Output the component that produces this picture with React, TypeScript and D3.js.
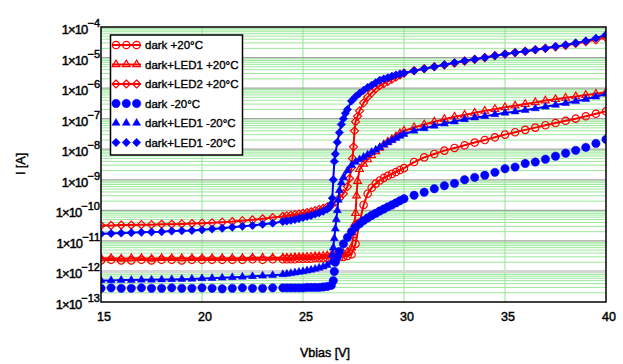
import React, { useEffect, useRef } from 'react';
import * as d3 from 'd3';

type Pt = [number, number];

// I(V) curves, [Vbias (V), current (A)]
const darkP20: Pt[] = [
  [15, 2.3e-12], [15.5, 2.4e-12], [16, 2.3e-12], [16.5, 2.3e-12], [17, 2.4e-12], [17.5, 2.3e-12], [18, 2.4e-12], [18.5, 2.4e-12],
  [19, 2.3e-12], [19.5, 2.4e-12], [20, 2.4e-12], [20.5, 2.4e-12], [21, 2.4e-12], [21.5, 2.4e-12], [22, 2.4e-12], [22.5, 2.5e-12],
  [23, 2.4e-12], [23.5, 2.5e-12], [24, 2.5e-12], [24.2, 2.5e-12], [24.4, 2.5e-12], [24.6, 2.5e-12], [24.8, 2.6e-12], [25, 2.6e-12],
  [25.2, 2.6e-12], [25.4, 2.6e-12], [25.6, 2.7e-12], [25.8, 2.7e-12], [26, 2.7e-12], [26.2, 2.8e-12], [26.4, 2.8e-12], [26.6, 2.9e-12],
  [26.8, 2.9e-12], [27, 3.0e-12], [27.2, 3.2e-12], [27.4, 3.6e-12], [27.6, 8e-12], [27.8, 4e-11], [28, 1.5e-10], [28.2, 3.5e-10],
  [28.4, 5.5e-10], [28.6, 7.5e-10], [28.8, 9.5e-10], [29, 1.15e-9], [29.2, 1.35e-9], [29.4, 1.55e-9], [29.6, 1.8e-9], [29.8, 2.1e-9],
  [30, 2.4e-9], [30.5, 3.8e-9], [31, 5.4e-9], [31.5, 7.0e-9], [32, 9.0e-9], [32.5, 1.1e-8], [33, 1.35e-8], [33.5, 1.65e-8],
  [34, 2.0e-8], [34.5, 2.45e-8], [35, 3.0e-8], [35.5, 3.6e-8], [36, 4.3e-8], [36.5, 5.1e-8], [37, 6.1e-8], [37.5, 7.2e-8],
  [38, 8.5e-8], [38.5, 1.0e-7], [39, 1.2e-7], [39.5, 1.45e-7], [40, 1.75e-7],
];

const led1P20: Pt[] = [
  [15, 2.7e-12], [15.5, 2.7e-12], [16, 2.6e-12], [16.5, 2.7e-12], [17, 2.7e-12], [17.5, 2.6e-12], [18, 2.7e-12], [18.5, 2.7e-12],
  [19, 2.7e-12], [19.5, 2.7e-12], [20, 2.7e-12], [20.5, 2.7e-12], [21, 2.7e-12], [21.5, 2.7e-12], [22, 2.7e-12], [22.5, 2.8e-12],
  [23, 2.8e-12], [23.5, 2.8e-12], [24, 2.8e-12], [24.2, 2.8e-12], [24.4, 2.8e-12], [24.6, 2.9e-12], [24.8, 2.9e-12], [25, 2.9e-12],
  [25.2, 3.0e-12], [25.4, 3.0e-12], [25.6, 3.1e-12], [25.8, 3.1e-12], [26, 3.2e-12], [26.2, 3.3e-12], [26.4, 3.4e-12], [26.6, 3.5e-12],
  [26.8, 3.7e-12], [27, 3.9e-12], [27.2, 4.3e-12], [27.4, 6e-12], [27.5, 1.5e-11], [27.55, 3.5e-11], [27.6, 8e-11], [27.65, 3e-10],
  [27.7, 9e-10], [27.8, 2.2e-9], [28, 3.3e-9], [28.2, 4.6e-9], [28.4, 6.3e-9], [28.6, 8.5e-9], [28.8, 1.1e-8], [29, 1.4e-8],
  [29.2, 1.75e-8], [29.4, 2.1e-8], [29.6, 2.6e-8], [29.8, 3.3e-8], [30, 4.0e-8], [30.5, 5.2e-8], [31, 6.4e-8], [31.5, 8.0e-8],
  [32, 9.6e-8], [32.5, 1.15e-7], [33, 1.33e-7], [33.5, 1.55e-7], [34, 1.8e-7], [34.5, 2.05e-7], [35, 2.35e-7], [35.5, 2.65e-7],
  [36, 3.0e-7], [36.5, 3.4e-7], [37, 3.9e-7], [37.5, 4.3e-7], [38, 4.8e-7], [38.5, 5.3e-7], [39, 5.9e-7], [39.5, 6.5e-7], [40, 7.3e-7],
];

const led2P20: Pt[] = [
  [15, 3.2e-11], [15.5, 3.2e-11], [16, 3.3e-11], [16.5, 3.3e-11], [17, 3.4e-11], [17.5, 3.4e-11], [18, 3.5e-11], [18.5, 3.5e-11],
  [19, 3.6e-11], [19.5, 3.7e-11], [20, 3.8e-11], [20.5, 3.9e-11], [21, 4.1e-11], [21.5, 4.3e-11], [22, 4.6e-11], [22.5, 4.9e-11],
  [23, 5.3e-11], [23.5, 5.8e-11], [24, 6.3e-11], [24.2, 6.6e-11], [24.4, 6.9e-11], [24.6, 7.2e-11], [24.8, 7.6e-11], [25, 8.0e-11],
  [25.2, 8.5e-11], [25.4, 9.0e-11], [25.6, 9.8e-11], [25.8, 1.07e-10], [26, 1.17e-10], [26.2, 1.3e-10], [26.4, 1.5e-10], [26.6, 1.9e-10],
  [26.8, 2.5e-10], [27, 3.5e-10], [27.2, 6e-10], [27.3, 1.1e-9], [27.4, 2.5e-9], [27.45, 5e-9], [27.5, 1.2e-8], [27.55, 4e-8],
  [27.6, 8e-8], [27.7, 1.2e-7], [27.8, 1.8e-7], [28, 3.3e-7], [28.2, 5.1e-7], [28.4, 7e-7], [28.6, 9.5e-7], [28.8, 1.2e-6],
  [29, 1.4e-6], [29.2, 1.65e-6], [29.4, 1.95e-6], [29.6, 2.3e-6], [29.8, 2.7e-6], [30, 3.1e-6], [30.5, 3.7e-6], [31, 4.3e-6],
  [31.5, 5.0e-6], [32, 5.7e-6], [32.5, 6.6e-6], [33, 7.6e-6], [33.5, 8.7e-6], [34, 1.0e-5], [34.5, 1.15e-5], [35, 1.3e-5],
  [35.5, 1.45e-5], [36, 1.6e-5], [36.5, 1.8e-5], [37, 2.0e-5], [37.5, 2.25e-5], [38, 2.5e-5], [38.5, 2.9e-5], [39, 3.3e-5],
  [39.5, 3.8e-5], [40, 4.5e-5],
];

const darkM20: Pt[] = [
  [15, 2.8e-13], [15.5, 2.9e-13], [16, 2.8e-13], [16.5, 2.8e-13], [17, 2.9e-13], [17.5, 2.8e-13], [18, 2.8e-13], [18.5, 2.9e-13],
  [19, 2.8e-13], [19.5, 2.8e-13], [20, 2.9e-13], [20.5, 2.8e-13], [21, 2.7e-13], [21.5, 2.8e-13], [22, 2.9e-13], [22.5, 2.8e-13],
  [23, 2.8e-13], [23.5, 2.9e-13], [24, 2.9e-13], [24.2, 2.9e-13], [24.4, 2.9e-13], [24.6, 2.9e-13], [24.8, 2.9e-13], [25, 2.9e-13],
  [25.2, 3.0e-13], [25.4, 3.0e-13], [25.6, 3.0e-13], [25.8, 3.0e-13], [26, 3.1e-13], [26.2, 3.2e-13], [26.4, 3.5e-13], [26.5, 5e-13],
  [26.55, 1.0e-12], [26.6, 2.0e-12], [26.7, 3.0e-12], [26.8, 4.5e-12], [27, 8e-12], [27.2, 1.3e-11], [27.4, 2.0e-11], [27.6, 2.8e-11],
  [27.8, 3.6e-11], [28, 4.6e-11], [28.2, 5.6e-11], [28.4, 6.8e-11], [28.6, 8e-11], [28.8, 9.5e-11], [29, 1.1e-10], [29.2, 1.3e-10],
  [29.4, 1.5e-10], [29.6, 1.75e-10], [29.8, 2.05e-10], [30, 2.4e-10], [30.5, 3.1e-10], [31, 3.9e-10], [31.5, 5.1e-10], [32, 6.4e-10],
  [32.5, 7.6e-10], [33, 1.0e-9], [33.5, 1.2e-9], [34, 1.4e-9], [34.5, 1.75e-9], [35, 2.3e-9], [35.5, 2.6e-9], [36, 3.4e-9],
  [36.5, 3.8e-9], [37, 4.7e-9], [37.5, 5.9e-9], [38, 7.4e-9], [38.5, 9.2e-9], [39, 1.15e-8], [39.5, 1.55e-8], [40, 2.1e-8],
];

const led1M20: Pt[] = [
  [15, 5.1e-13], [15.5, 5.1e-13], [16, 5.2e-13], [16.5, 5.2e-13], [17, 5.3e-13], [17.5, 5.3e-13], [18, 5.4e-13], [18.5, 5.5e-13],
  [19, 5.6e-13], [19.5, 5.7e-13], [20, 5.9e-13], [20.5, 6.0e-13], [21, 6.2e-13], [21.5, 6.4e-13], [22, 6.6e-13], [22.5, 6.9e-13],
  [23, 7.2e-13], [23.5, 7.5e-13], [24, 8.0e-13], [24.2, 8.3e-13], [24.4, 8.7e-13], [24.6, 9.1e-13], [24.8, 9.6e-13], [25, 1.0e-12],
  [25.2, 1.06e-12], [25.4, 1.12e-12], [25.6, 1.2e-12], [25.8, 1.3e-12], [26, 1.42e-12], [26.2, 1.6e-12], [26.4, 2.0e-12], [26.45, 3.5e-12],
  [26.5, 6e-12], [26.55, 1.2e-11], [26.6, 2.5e-11], [26.65, 5e-11], [26.7, 1.0e-10], [26.75, 2.2e-10], [26.8, 4.5e-10], [26.9, 8e-10],
  [27, 1.2e-9], [27.2, 2.0e-9], [27.4, 3.0e-9], [27.6, 3.8e-9], [27.8, 4.6e-9], [28, 5.5e-9], [28.2, 6.6e-9], [28.4, 8e-9],
  [28.6, 9.5e-9], [28.8, 1.15e-8], [29, 1.4e-8], [29.2, 1.65e-8], [29.4, 1.95e-8], [29.6, 2.3e-8], [29.8, 2.7e-8], [30, 3.1e-8],
  [30.5, 4.0e-8], [31, 4.8e-8], [31.5, 5.8e-8], [32, 6.8e-8], [32.5, 8e-8], [33, 9.5e-8], [33.5, 1.08e-7], [34, 1.2e-7],
  [34.5, 1.38e-7], [35, 1.55e-7], [35.5, 1.7e-7], [36, 1.9e-7], [36.5, 2.15e-7], [37, 2.45e-7], [37.5, 2.8e-7], [38, 3.2e-7],
  [38.5, 3.7e-7], [39, 4.3e-7], [39.5, 5.2e-7], [40, 6.5e-7],
];

const led2M20: Pt[] = [
  [15, 1.7e-11], [15.5, 1.75e-11], [16, 1.8e-11], [16.5, 1.85e-11], [17, 1.9e-11], [17.5, 1.95e-11], [18, 2.0e-11], [18.5, 2.1e-11],
  [19, 2.15e-11], [19.5, 2.2e-11], [20, 2.3e-11], [20.5, 2.45e-11], [21, 2.6e-11], [21.5, 2.8e-11], [22, 3.0e-11], [22.5, 3.2e-11],
  [23, 3.5e-11], [23.5, 3.8e-11], [24, 4.3e-11], [24.2, 4.5e-11], [24.4, 4.7e-11], [24.6, 5.0e-11], [24.8, 5.4e-11], [25, 5.8e-11],
  [25.2, 6.3e-11], [25.4, 6.8e-11], [25.6, 7.5e-11], [25.8, 8.3e-11], [26, 9.3e-11], [26.2, 1.1e-10], [26.3, 1.25e-10], [26.4, 1.6e-10],
  [26.45, 2.5e-10], [26.5, 1.0e-9], [26.55, 4e-9], [26.6, 7e-9], [26.7, 1.7e-8], [26.8, 3.5e-8], [26.9, 6.5e-8], [27, 1.0e-7],
  [27.1, 1.5e-7], [27.2, 2.0e-7], [27.4, 3.8e-7], [27.6, 5.2e-7], [27.8, 6.8e-7], [28, 8.5e-7], [28.2, 1.05e-6], [28.4, 1.25e-6],
  [28.6, 1.5e-6], [28.8, 1.8e-6], [29, 2.0e-6], [29.2, 2.2e-6], [29.4, 2.45e-6], [29.6, 2.7e-6], [29.8, 2.9e-6], [30, 3.1e-6],
  [30.5, 3.7e-6], [31, 4.3e-6], [31.5, 5.0e-6], [32, 5.8e-6], [32.5, 6.8e-6], [33, 7.8e-6], [33.5, 8.8e-6], [34, 1.0e-5],
  [34.5, 1.15e-5], [35, 1.3e-5], [35.5, 1.45e-5], [36, 1.6e-5], [36.5, 1.8e-5], [37, 2.0e-5], [37.5, 2.3e-5], [38, 2.6e-5],
  [38.5, 3.0e-5], [39, 3.5e-5], [39.5, 4.3e-5], [40, 5.6e-5],
];

const seriesLabels = [
  'dark +20°C', 'dark+LED1 +20°C', 'dark+LED2 +20°C',
  'dark -20°C', 'dark+LED1 -20°C', 'dark+LED1 -20°C',
];
const xTicks = [15, 20, 25, 30, 35, 40];
const yExponents = [-4, -5, -6, -7, -8, -9, -10, -11, -12, -13];

const RED = '#ff0000';
const BLUE = '#0000ff';
const FONT = '"Liberation Sans", Arial, sans-serif';

const series = [
  { data: darkP20, color: RED, shape: 'circle', filled: false, line: true },
  { data: led1P20, color: RED, shape: 'triangle', filled: false, line: true },
  { data: led2P20, color: RED, shape: 'diamond', filled: false, line: true },
  { data: darkM20, color: BLUE, shape: 'circle', filled: true, line: false },
  { data: led1M20, color: BLUE, shape: 'triangle', filled: true, line: true },
  { data: led2M20, color: BLUE, shape: 'diamond', filled: true, line: true },
];

const markerPath = (shape: string, filled: boolean) => {
  if (shape === 'circle') {
    const r = filled ? 4.2 : 3.7;
    return `M${r},0A${r},${r} 0 1,1 ${-r},0A${r},${r} 0 1,1 ${r},0Z`;
  }
  if (shape === 'triangle') {
    const r = filled ? 4.6 : 4.4;
    return `M0,${-r}L${r * 0.87},${r * 0.5}L${-r * 0.87},${r * 0.5}Z`;
  }
  const r = filled ? 4.2 : 4;
  return `M0,${-r}L${r},0L0,${r}L${-r},0Z`;
};

const W = 623;
const H = 364;
const margin = { top: 27, right: 17, bottom: 62, left: 101 };

const App = () => {
  const svgRef = useRef<SVGSVGElement | null>(null);

  useEffect(() => {
    const svg = d3.select(svgRef.current);
    svg.selectAll('*').remove();

    const x = d3.scaleLinear().domain([15, 40]).range([margin.left, W - margin.right]);
    const y = d3.scaleLog().domain([1e-13, 1e-4]).range([H - margin.bottom, margin.top]);
    const [x0, x1] = x.range();
    const [y0, y1] = [y(1e-4), y(1e-13)];

    svg.append('defs').append('clipPath').attr('id', 'plot-clip')
      .append('rect').attr('x', x0).attr('y', y0).attr('width', x1 - x0).attr('height', y1 - y0);

    svg.append('rect').attr('x', x0).attr('y', y0).attr('width', x1 - x0).attr('height', y1 - y0).attr('fill', '#fff');

    // grid: minor decades in green, decades in gray
    const grid = svg.append('g');
    const minor: number[] = [];
    yExponents.slice(1).forEach(e => {
      for (let m = 2; m <= 9; m++) minor.push(m * Math.pow(10, e));
    });
    grid.selectAll('line.minor').data(minor).enter().append('line')
      .attr('x1', x0).attr('x2', x1)
      .attr('y1', d => y(d)).attr('y2', d => y(d))
      .attr('stroke', '#9be89b').attr('stroke-width', 1);
    grid.selectAll('line.vert').data(xTicks.slice(1, -1)).enter().append('line')
      .attr('x1', d => x(d)).attr('x2', d => x(d))
      .attr('y1', y0).attr('y2', y1)
      .attr('stroke', '#8fe88f').attr('stroke-width', 1);
    grid.selectAll('line.major').data(yExponents.slice(1, -1)).enter().append('line')
      .attr('x1', x0).attr('x2', x1)
      .attr('y1', d => y(Math.pow(10, d))).attr('y2', d => y(Math.pow(10, d)))
      .attr('stroke', d => (d === -12 ? '#d6d6d6' : '#a3a3a3'))
      .attr('stroke-width', d => (d === -12 ? 3 : 1.3));

    const plot = svg.append('g').attr('clip-path', 'url(#plot-clip)');
    const line = d3.line<Pt>().x(d => x(d[0])).y(d => y(d[1]));

    series.forEach(s => {
      const g = plot.append('g');
      if (s.line) {
        g.append('path').attr('d', line(s.data))
          .attr('fill', 'none').attr('stroke', s.color).attr('stroke-width', 2);
      }
      g.selectAll('path.m').data(s.data).enter().append('path')
        .attr('d', markerPath(s.shape, s.filled))
        .attr('transform', d => `translate(${x(d[0])},${y(d[1])})`)
        .attr('fill', s.filled ? s.color : 'none')
        .attr('stroke', s.color)
        .attr('stroke-width', s.filled ? 0.5 : 1.2);
    });

    // frame
    svg.append('rect').attr('x', x0).attr('y', y0).attr('width', x1 - x0).attr('height', y1 - y0)
      .attr('fill', 'none').attr('stroke', '#000').attr('stroke-width', 1.5);

    // legend
    const lg = svg.append('g');
    lg.append('rect').attr('x', 110.5).attr('y', 35).attr('width', 132).attr('height', 120)
      .attr('fill', '#fff').attr('stroke', '#000').attr('stroke-width', 1.5);
    series.forEach((s, i) => {
      const ly = 45 + i * 19.5;
      if (s.color === RED) {
        lg.append('line').attr('x1', 112).attr('x2', 141).attr('y1', ly).attr('y2', ly)
          .attr('stroke', s.color).attr('stroke-width', 2);
      }
      [116, 126.3, 136.6].forEach(mx => {
        lg.append('path').attr('d', markerPath(s.shape, s.filled))
          .attr('transform', `translate(${mx},${ly})`)
          .attr('fill', s.filled ? s.color : 'none')
          .attr('stroke', s.color).attr('stroke-width', s.filled ? 0.5 : 1.2);
      });
      lg.append('text').attr('x', 145).attr('y', ly).attr('dy', '0.36em')
        .attr('font-family', FONT).attr('font-size', 11.5).attr('fill', '#000')
        .attr('stroke', '#000').attr('stroke-width', 0.35)
        .text(seriesLabels[i]);
    });

    // x tick labels
    svg.append('g').selectAll('text').data(xTicks).enter().append('text')
      .attr('x', d => x(d) + 3).attr('y', 321)
      .attr('text-anchor', 'middle').attr('font-family', FONT).attr('font-size', 12.5)
      .attr('stroke', '#000').attr('stroke-width', 0.45)
      .text(d => d);

    // y tick labels 1×10^e
    const yl = svg.append('g').selectAll('text').data(yExponents).enter().append('text')
      .attr('x', x0 - 1).attr('y', d => y(Math.pow(10, d)) + 7)
      .attr('text-anchor', 'end').attr('font-family', FONT).attr('font-size', 13)
      .attr('stroke', '#000').attr('stroke-width', 0.45);
    yl.append('tspan').attr('letter-spacing', -0.9).text('1×10');
    yl.append('tspan').attr('dy', -7).attr('font-size', 11).text(d => `\u2212${-d}`);

    svg.append('text').attr('x', 325).attr('y', 357).attr('text-anchor', 'middle')
      .attr('font-family', FONT).attr('font-size', 12.5)
      .attr('stroke', '#000').attr('stroke-width', 0.45).text('Vbias [V]');
    svg.append('text').attr('transform', 'translate(25,164) rotate(-90)').attr('text-anchor', 'middle')
      .attr('font-family', FONT).attr('font-size', 12.5)
      .attr('stroke', '#000').attr('stroke-width', 0.45).text('I [A]');
  }, []);

  return (
    <div style={{ position: 'absolute', left: 0, top: 0 }}>
      <svg ref={svgRef} width={W} height={H} style={{ display: 'block', background: '#fff' }} />
    </div>
  );
};

export default App;
